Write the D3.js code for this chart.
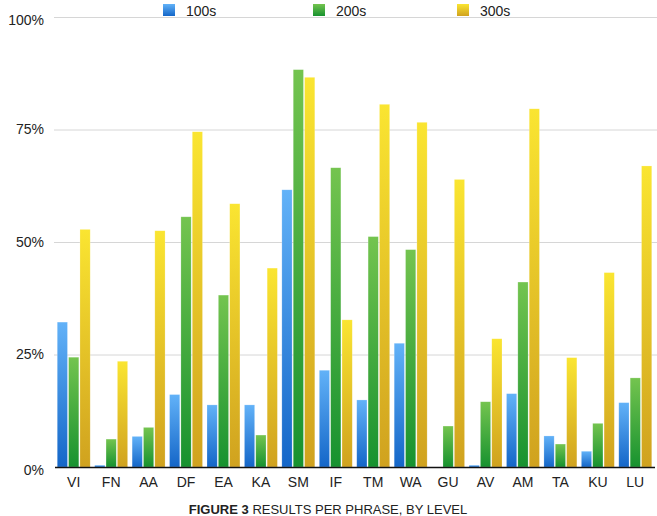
<!DOCTYPE html>
<html>
<head>
<meta charset="utf-8">
<script src="https://cdn.jsdelivr.net/npm/d3@7/dist/d3.min.js"></script>
<style>
  body { margin: 0; background: #fff; }
  text { font-family: "Liberation Sans", Arial, sans-serif; }
</style>
</head>
<body>
<div id="chart-area"></div>
<script>
// Data
var phrases = ["VI", "FN", "AA", "DF", "EA", "KA", "SM", "IF", "TM", "WA", "GU", "AV", "AM", "TA", "KU", "LU"];
var levels = ["100s", "200s", "300s"];
var s100 = [32.2, 0.4, 6.8, 16.1, 13.8, 13.8, 61.6, 21.5, 14.9, 27.5, 0, 0.4, 16.3, 6.9, 3.5, 14.3];
var s200 = [24.4, 6.2, 8.8, 55.6, 38.2, 7.1, 88.3, 66.5, 51.2, 48.3, 9.1, 14.5, 41.1, 5.1, 9.7, 19.8];
var s300 = [52.8, 23.5, 52.5, 74.5, 58.5, 44.2, 86.6, 32.7, 80.6, 76.6, 63.9, 28.5, 79.6, 24.3, 43.2, 66.9];
var yTicks = [0, 25, 50, 75, 100];

var seriesValues = [s100, s200, s300];

var width = 657, height = 516;
var margin = { left: 55, right: 3, top: 17, bottom: 49 };

var svg = d3.select("#chart-area")
    .append("svg")
        .attr("width", width)
        .attr("height", height);

// gradients for the bar fills
var grads = [
    { id: "g100", top: "#62b2f8", bottom: "#1466c8" },
    { id: "g200", top: "#74c44f", bottom: "#17922f" },
    { id: "g300", top: "#fae531", bottom: "#d0a21f" }
];
var defs = svg.append("defs");
grads.forEach(function(g){
    var lg = defs.append("linearGradient")
        .attr("id", g.id)
        .attr("x1", 0).attr("y1", 0).attr("x2", 0).attr("y2", 1);
    lg.append("stop").attr("offset", "0%").attr("stop-color", g.top);
    lg.append("stop").attr("offset", "100%").attr("stop-color", g.bottom);
});

// Scales
var x0 = d3.scaleBand()
    .domain(phrases)
    .range([margin.left, width - margin.right])
    .paddingInner(0.12)
    .paddingOuter(0.06);

var x1 = d3.scaleBand()
    .domain(levels)
    .range([0, x0.bandwidth()])
    .paddingInner(0.1);

var y = d3.scaleLinear()
    .domain([0, 100])
    .range([height - margin.bottom, margin.top]);

// Gridlines
svg.append("g")
    .attr("class", "grid")
    .selectAll("line")
    .data(yTicks.filter(function(d){ return d > 0; }))
    .enter().append("line")
        .attr("x1", margin.left - 1)
        .attr("x2", width)
        .attr("y1", function(d){ return y(d) + 0.5; })
        .attr("y2", function(d){ return y(d) + 0.5; })
        .attr("stroke", "#d6d6d6")
        .attr("stroke-width", 1);

// Y axis labels
var yAxisCall = d3.axisLeft(y)
    .tickValues(yTicks)
    .tickSize(0)
    .tickPadding(11)
    .tickFormat(function(d){ return d + "%"; });
var yAxis = svg.append("g")
    .attr("transform", "translate(" + margin.left + ",0)")
    .call(yAxisCall);
yAxis.select(".domain").remove();
yAxis.selectAll("text")
    .attr("font-size", "14px")
    .attr("fill", "#222")
    .attr("dy", function(d){ return d == 0 ? "0.55em" : (d == 100 ? "0.5em" : "0.32em"); });

// Bars
var groups = svg.append("g")
    .selectAll("g")
    .data(phrases)
    .enter().append("g")
        .attr("transform", function(d){ return "translate(" + x0(d) + ",0)"; });

groups.selectAll("rect")
    .data(function(p, i){
        return levels.map(function(l, j){ return { level: l, value: seriesValues[j][i], k: j }; });
    })
    .enter().append("rect")
        .attr("x", function(d){ return x1(d.level); })
        .attr("width", x1.bandwidth())
        .attr("y", function(d){ return y(d.value); })
        .attr("height", function(d){ return y(0) - y(d.value); })
        .attr("fill", function(d){ return "url(#" + grads[d.k].id + ")"; })
        .attr("stroke", "#ffffff")
        .attr("stroke-opacity", 0.35)
        .attr("stroke-width", 0.6);

// X axis
var xAxisCall = d3.axisBottom(x0)
    .tickSize(0)
    .tickPadding(10);
var xAxis = svg.append("g")
    .attr("transform", "translate(0," + y(0) + ")")
    .call(xAxisCall);
xAxis.select(".domain")
    .attr("d", "M" + margin.left + ",0.5H" + (width - 2))
    .attr("stroke", "#111")
    .attr("stroke-width", 1.6);
xAxis.selectAll("text")
    .attr("font-size", "14px")
    .attr("fill", "#222");

// Legend
var legendX = [163, 313, 457];
var legend = svg.append("g");
levels.forEach(function(l, i){
    var row = legend.append("g")
        .attr("transform", "translate(" + legendX[i] + ",4)");
    row.append("rect")
        .attr("width", 12)
        .attr("height", 12)
        .attr("fill", "url(#" + grads[i].id + ")");
    row.append("text")
        .attr("x", 23)
        .attr("y", 12)
        .attr("font-size", "14px")
        .attr("fill", "#222")
        .text(l);
});

// Caption at the bottom edge
var caption = svg.append("text")
    .attr("x", 328)
    .attr("y", 514)
    .attr("text-anchor", "middle")
    .attr("font-size", "13px")
    .attr("fill", "#222");
caption.append("tspan").attr("font-weight", "bold").text("FIGURE 3 ");
caption.append("tspan").text("RESULTS PER PHRASE, BY LEVEL");
</script>
</body>
</html>
